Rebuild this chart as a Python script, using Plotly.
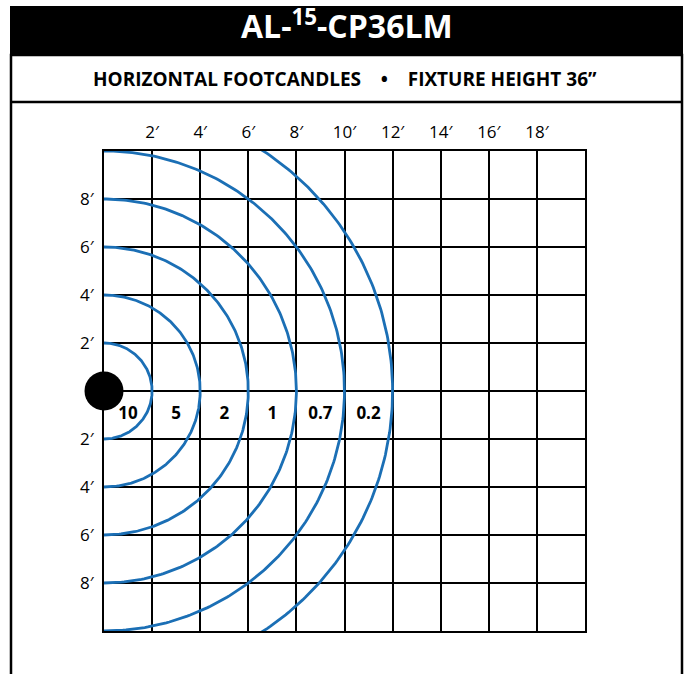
import numpy as np
import plotly.graph_objects as go

# ---- data ----
top_ticks = [2, 4, 6, 8, 10, 12, 14, 16, 18]            # feet along the floor
side_ticks = [8, 6, 4, 2, -2, -4, -6, -8]                # feet to each side
radii_ft = [2, 4, 6, 8, 10, 12]                          # iso-footcandle radii
fc_labels = ["10", "5", "2", "1", "0.7", "0.2"]          # footcandle values
title_main = "AL-<sup>15</sup>-CP36LM"
subtitle = "HORIZONTAL FOOTCANDLES\u00a0\u00a0\u00a0\u00a0•\u00a0\u00a0\u00a0\u00a0FIXTURE HEIGHT 36”"

W, H = 691, 674
ARC = "#1b6fb5"
FONT = "Open Sans"


def px(x):
    return x / W


def py(y):
    return 1 - y / H


fig = go.Figure()

theta = np.linspace(-np.pi / 2, np.pi / 2, 241)
for r in radii_ft:
    fig.add_trace(go.Scatter(
        x=r * np.cos(theta), y=r * np.sin(theta), mode="lines",
        line=dict(color=ARC, width=2.8), hoverinfo="skip", showlegend=False))

# fixture dot
fig.add_trace(go.Scatter(
    x=[0], y=[0], mode="markers", marker=dict(color="black", size=39),
    cliponaxis=False, hoverinfo="skip", showlegend=False))

# footcandle labels between arcs
prev = [0] + radii_ft[:-1]
label_x = [(a + b) / 2 for a, b in zip(prev, radii_ft)]
label_y = [-(radii_ft[0] / 2)] * len(radii_ft)
fig.add_trace(go.Scatter(
    x=label_x, y=label_y, mode="text",
    text=[f"<b>{t}</b>" for t in fc_labels],
    textfont=dict(family=FONT, size=17, color="black"),
    hoverinfo="skip", showlegend=False))

axis_common = dict(
    showgrid=True, gridcolor="black", gridwidth=2,
    showline=True, linecolor="black", linewidth=2, mirror=True,
    ticks="", tickfont=dict(family=FONT, size=17, color="black"),
    layer="below traces", fixedrange=True,
)

fig.update_layout(
    width=W, height=H,
    margin=dict(l=0, r=0, t=0, b=0),
    paper_bgcolor="white", plot_bgcolor="white",
    showlegend=False,
    xaxis=dict(domain=[px(104), px(585)], range=[0, 20], side="top",
               tickmode="array", tickvals=top_ticks,
               ticktext=[f"{v}′" for v in top_ticks],
               zeroline=False, ticklabelstandoff=4, **axis_common),
    yaxis=dict(domain=[py(631), py(151)], range=[-10, 10],
               tickmode="array", tickvals=side_ticks,
               ticktext=[f"{abs(v)}′" for v in side_ticks],
               zeroline=True, zerolinecolor="black", zerolinewidth=2,
               ticklabelstandoff=5, **axis_common),
    shapes=[
        dict(type="rect", xref="paper", yref="paper",
             x0=px(10), x1=px(683), y0=py(55), y1=py(6),
             fillcolor="black", line=dict(width=0)),
        dict(type="rect", xref="paper", yref="paper",
             x0=px(11), x1=px(682), y0=py(700), y1=py(55),
             fillcolor="rgba(0,0,0,0)", line=dict(color="black", width=2.5)),
        dict(type="line", xref="paper", yref="paper",
             x0=px(11), x1=px(682), y0=py(102), y1=py(102),
             line=dict(color="black", width=2.5)),
    ],
    annotations=[
        dict(x=px(347), y=py(24), xref="paper", yref="paper",
             text=f"<b>{title_main}</b>", showarrow=False,
             xanchor="center", yanchor="middle",
             font=dict(family=FONT, size=32, color="white")),
        dict(x=px(345), y=py(79), xref="paper", yref="paper",
             text=f"<b>{subtitle}</b>", showarrow=False,
             xanchor="center", yanchor="middle",
             font=dict(family=FONT, size=19, color="black")),
    ],
)

fig.write_html("out.html",
               config={"displayModeBar": False, "staticPlot": True},
               post_script="document.body.style.margin='0';"
                           "document.body.style.overflow='hidden';")
